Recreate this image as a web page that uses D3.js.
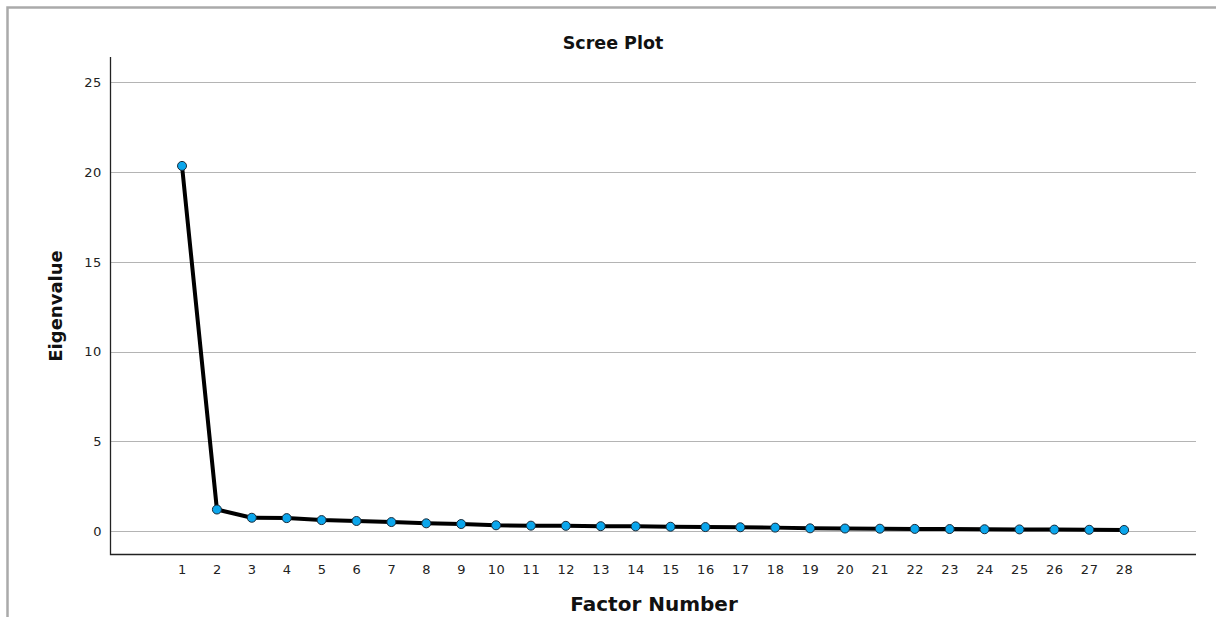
<!DOCTYPE html>
<html>
<head>
<meta charset="utf-8">
<script src="https://cdn.jsdelivr.net/npm/d3@7"></script>
<style>
  body { margin: 0; background: #fff; }
  text { font-family: 'DejaVu Sans', sans-serif; fill: #222; }
  .axis-title { font-weight: bold; fill: #111; }
</style>
</head>
<body>
<div id="wrapper"></div>
<script>
// Data
const factors = d3.range(1, 29)
const eigenvalues = [
  20.35, 1.2, 0.74, 0.72, 0.61, 0.56, 0.5, 0.43, 0.39, 0.32,
  0.3, 0.29, 0.27, 0.26, 0.24, 0.22, 0.21, 0.19, 0.15, 0.14,
  0.13, 0.12, 0.11, 0.1, 0.09, 0.08, 0.07, 0.06
]
const yTicks = [0, 5, 10, 15, 20, 25]

// Dimensions
const width = 1216
const height = 617
const margin = { top: 57, right: 20, bottom: 63, left: 110 }
const boundedWidth = width - margin.left - margin.right
const boundedHeight = height - margin.top - margin.bottom

const svg = d3.select('#wrapper')
  .append('svg')
  .attr('width', width)
  .attr('height', height)

// Outer frame
svg.append('path')
  .attr('d', `M7.5,${height} V7.5 H${width + 2}`)
  .attr('fill', 'none')
  .attr('stroke', '#aaa')
  .attr('stroke-width', 2.5)

const bounds = svg.append('g')
  .attr('transform', `translate(${margin.left},${margin.top})`)

// Scales
const xScale = d3.scaleLinear()
  .domain([-1.064, 30.06])
  .range([0, boundedWidth])

const yScale = d3.scaleLinear()
  .domain([-1.28, 26.42])
  .range([boundedHeight, 0])

// Gridlines
bounds.selectAll('.grid')
  .data(yTicks)
  .enter()
  .append('line')
  .attr('x1', 0)
  .attr('x2', boundedWidth)
  .attr('y1', d => Math.round(yScale(d)) + 0.5)
  .attr('y2', d => Math.round(yScale(d)) + 0.5)
  .attr('stroke', '#b4b4b4')
  .attr('stroke-width', 1)

// Axes
const yAxis = d3.axisLeft(yScale)
  .tickValues(yTicks)
  .tickSize(0)
  .tickPadding(8)
const yAxisGroup = bounds.append('g').call(yAxis)
yAxisGroup.select('.domain').remove()
yAxisGroup.selectAll('text')
  .style('font-size', '13px')
  .style('letter-spacing', '0.6px')
  .attr('fill', '#222')

const xAxis = d3.axisBottom(xScale)
  .tickValues(factors)
  .tickSize(0)
  .tickPadding(11)
const xAxisGroup = bounds.append('g')
  .attr('transform', `translate(0,${boundedHeight})`)
  .call(xAxis)
xAxisGroup.select('.domain').remove()
xAxisGroup.selectAll('text')
  .style('font-size', '13px')
  .style('letter-spacing', '0.6px')
  .attr('fill', '#222')

// Axis lines
bounds.append('path')
  .attr('d', `M0.5,0 V${boundedHeight + 0.5} H${boundedWidth}`)
  .attr('fill', 'none')
  .attr('stroke', '#222')
  .attr('stroke-width', 1.3)

// Line and points
const lineGenerator = d3.line()
  .x((d, i) => xScale(factors[i]))
  .y(d => yScale(d))

bounds.append('path')
  .datum(eigenvalues)
  .attr('d', lineGenerator)
  .attr('fill', 'none')
  .attr('stroke', '#000')
  .attr('stroke-width', 4)
  .attr('stroke-linejoin', 'round')

bounds.selectAll('.point')
  .data(eigenvalues)
  .enter()
  .append('circle')
  .attr('cx', (d, i) => xScale(factors[i]))
  .attr('cy', d => yScale(d))
  .attr('r', 4.5)
  .attr('fill', '#0ba6ec')
  .attr('stroke', '#1a2a38')
  .attr('stroke-width', 1)

// Titles
svg.append('text')
  .attr('class', 'axis-title')
  .attr('x', 613)
  .attr('y', 49)
  .attr('text-anchor', 'middle')
  .style('font-size', '17.5px')
  .text('Scree Plot')

svg.append('text')
  .attr('class', 'axis-title')
  .attr('transform', 'translate(62,306) rotate(-90)')
  .attr('text-anchor', 'middle')
  .style('font-size', '18px')
  .text('Eigenvalue')

svg.append('text')
  .attr('class', 'axis-title')
  .attr('x', 654)
  .attr('y', 611)
  .attr('text-anchor', 'middle')
  .style('font-size', '20px')
  .text('Factor Number')
</script>
</body>
</html>
